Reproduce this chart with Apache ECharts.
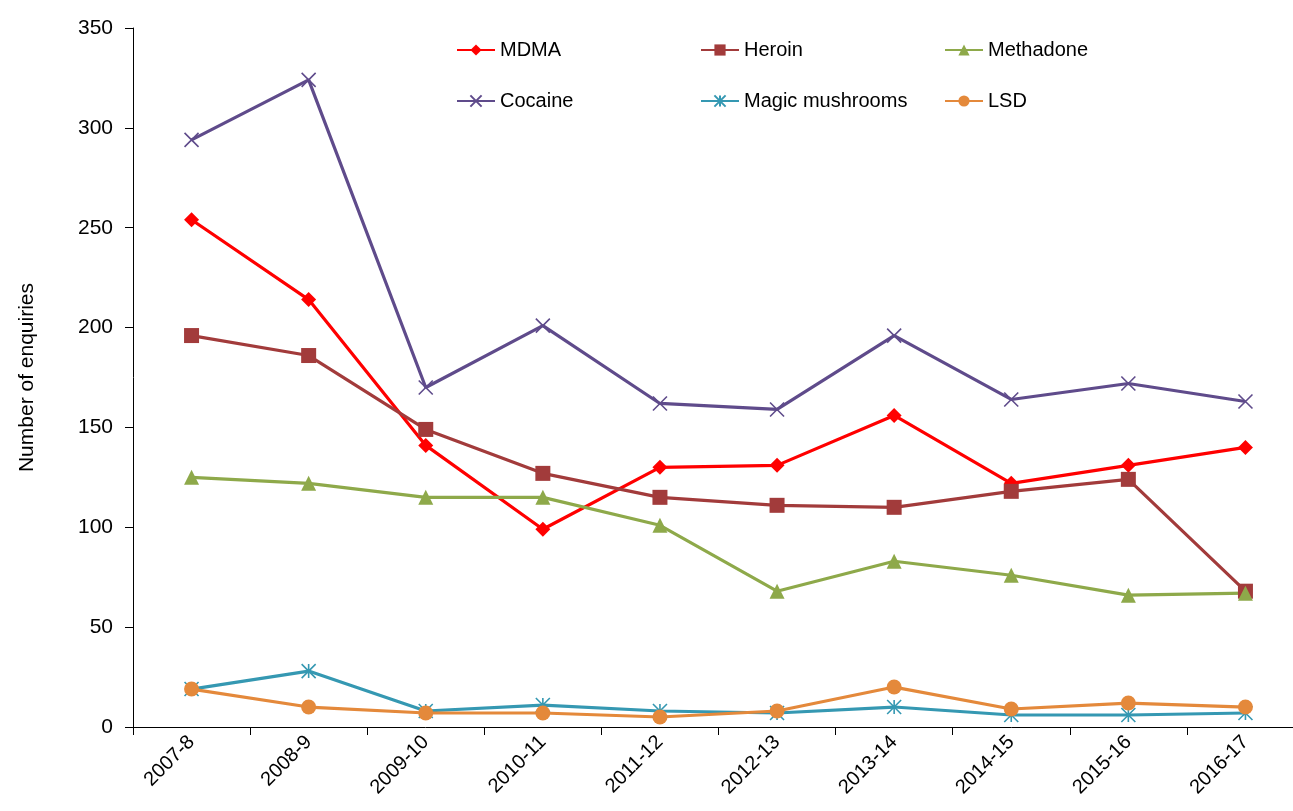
<!DOCTYPE html>
<html>
<head>
<meta charset="utf-8">
<script src="https://cdn.jsdelivr.net/npm/echarts@6/dist/echarts.min.js"></script>
<style>
html,body{margin:0;padding:0;background:#fff;overflow:hidden;width:1293px;height:811px;}
#chart{width:1310px;height:811px;}
</style>
</head>
<body>
<div id="chart"></div>
<script>
const categories = ['2007-8','2008-9','2009-10','2010-11','2011-12','2012-13','2013-14','2014-15','2015-16','2016-17'];
const mdma = [254, 214, 141, 99, 130, 131, 156, 122, 131, 140];
const heroin = [196, 186, 149, 127, 115, 111, 110, 118, 124, 68];
const methadone = [125, 122, 115, 115, 101, 68, 83, 76, 66, 67];
const cocaine = [294, 324, 170, 201, 162, 159, 196, 164, 172, 163];
const magicMushrooms = [19, 28, 8, 11, 8, 7, 10, 6, 6, 7];
const lsd = [19, 10, 7, 7, 5, 8, 20, 9, 12, 10];
const yTicks = [0, 50, 100, 150, 200, 250, 300, 350];

const FONT = '"Liberation Sans", Arial, sans-serif';
const crossPath = 'path://M0,0 L10,10 M10,0 L0,10';
const starPath = 'path://M5,0 L5,10 M0,0 L10,10 M10,0 L0,10';

function lineSeries(name, data, color, symbol, size, strokeOnly) {
  return {
    name: name, type: 'line', data: data,
    symbol: symbol, symbolSize: size,
    lineStyle: { color: color, width: 3.2 },
    itemStyle: strokeOnly ? { color: 'rgba(0,0,0,0)', borderColor: color, borderWidth: 1.6 } : { color: color, borderWidth: 0 },
    emphasis: { disabled: true },
    animation: false
  };
}

const chart = echarts.init(document.getElementById('chart'), null, { renderer: 'canvas' });
const legendCommon = {
  orient: 'vertical', itemWidth: 38, itemHeight: 14, itemGap: 31, top: 35,
  textStyle: { fontFamily: FONT, fontSize: 20, color: '#000', lineHeight: 20 },
  selectedMode: false
};
chart.setOption({
  backgroundColor: '#ffffff',
  animation: false,
  grid: { left: 133, right: 6, top: 28, bottom: 84, containLabel: false },
  legend: [
    Object.assign({}, legendCommon, { left: 451, data: ['MDMA', 'Cocaine'] }),
    Object.assign({}, legendCommon, { left: 695, data: ['Heroin', 'Magic mushrooms'] }),
    Object.assign({}, legendCommon, { left: 939, data: ['Methadone', 'LSD'] })
  ],
  xAxis: {
    type: 'category', data: categories, boundaryGap: true,
    axisLine: { lineStyle: { color: '#000', width: 1 } },
    axisTick: { show: true, length: 8, alignWithLabel: false, lineStyle: { color: '#000' } },
    axisLabel: { rotate: 45, margin: 12, fontFamily: FONT, fontSize: 20, color: '#000', interval: 0 },
    splitLine: { show: false }
  },
  yAxis: {
    type: 'value', min: yTicks[0], max: yTicks[yTicks.length - 1], interval: 50,
    name: 'Number of enquiries', nameLocation: 'middle', nameGap: 95, nameRotate: 90,
    nameTextStyle: { fontFamily: FONT, fontSize: 21, color: '#000' },
    axisLine: { show: true, lineStyle: { color: '#000', width: 1 } },
    axisTick: { show: true, length: 8, lineStyle: { color: '#000' } },
    axisLabel: { margin: 20, fontFamily: FONT, fontSize: 21, color: '#000' },
    splitLine: { show: false }
  },
  series: [
    lineSeries('MDMA', mdma, '#ff0000', 'diamond', 15, false),
    lineSeries('Heroin', heroin, '#a23b3b', 'rect', 15, false),
    lineSeries('Methadone', methadone, '#8ea94a', 'triangle', 15, false),
    lineSeries('Cocaine', cocaine, '#5f4b8b', crossPath, 14, true),
    lineSeries('Magic mushrooms', magicMushrooms, '#3598b2', starPath, 14, true),
    lineSeries('LSD', lsd, '#e4893b', 'circle', 15, false)
  ]
});
</script>
</body>
</html>
